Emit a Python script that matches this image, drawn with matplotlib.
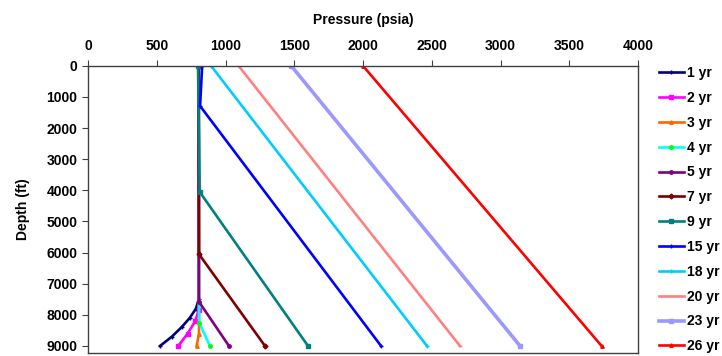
import matplotlib
matplotlib.use('Agg')
import matplotlib.pyplot as plt

plt.rcParams['font.family'] = ['Liberation Sans', 'DejaVu Sans']
plt.rcParams['font.weight'] = 'bold'

labels = ['1 yr', '2 yr', '3 yr', '4 yr', '5 yr', '7 yr', '9 yr',
          '15 yr', '18 yr', '20 yr', '23 yr', '26 yr']
colors = ['#000080', '#FF00FF', '#FF6600', '#00FFFF', '#800080', '#800000',
          '#008080', '#0000FF', '#00CCFF', '#FF8080', '#9999FF', '#FF0000']
markers = ['+', 's', '^', 'o', 'o', 'D', 's', '+', '+', '_', 's', '^']

# depth (ft) and pressure (psia)
depth = [
    [0, 7500, 7800, 8100, 8400, 8700, 9000],
    [0, 7850, 8200, 8600, 9000],
    [0, 8600, 9000],
    [0, 8250, 9000],
    [0, 7580, 9000],
    [0, 6050, 9000],
    [0, 4050, 9000],
    [0, 1290, 9000],
    [0, 9000],
    [0, 9000],
    [0, 9000],
    [0, 9000],
]
pressure = [
    [805, 805, 785, 740, 680, 610, 524],
    [805, 805, 780, 725, 656],
    [805, 807, 790],
    [805, 808, 887],
    [805, 807, 1025],
    [805, 807, 1287],
    [800, 812, 1600],
    [830, 815, 2131],
    [895, 2465],
    [1095, 2705],
    [1478, 3142],
    [2000, 3735],
]

fig = plt.figure(figsize=(7.22, 3.56), dpi=100)
ax = fig.add_axes([0.1219, 0.009, 0.7618, 0.806])

fs = 10
handles = []
for d, p, lab, c, m in zip(depth, pressure, labels, colors, markers):
    lw = 2.6 if lab == '23 yr' else 1.9
    mfc = '#00FF00' if lab == '4 yr' else c
    h, = ax.plot(p, d, '-', color=c, lw=lw, marker=m, ms=2.5, mfc=mfc, mec=mfc,
                 label=lab)
    handles.append(h)

ax.set_xlim(0, 4000)
ax.set_ylim(9220, 0)
ax.set_xticks(range(0, 4001, 500))
ax.set_yticks(range(0, 9001, 1000))
ax.xaxis.tick_top()
ax.xaxis.set_label_position('top')
ax.tick_params(axis='both', labelsize=fs, length=4, width=0.8, color='#404040',
               direction='out')
ax.tick_params(axis='x', pad=5)
ax.set_xlabel('Pressure (psia)', fontsize=fs, fontweight='bold', labelpad=11)
ax.set_ylabel('Depth (ft)', fontsize=fs, fontweight='bold', labelpad=12)
for s in ax.spines.values():
    s.set_color('#404040')
    s.set_linewidth(1.0)

leg = fig.legend(handles=handles, loc='upper left', bbox_to_anchor=(0.905, 0.83),
                 frameon=False, fontsize=fs, handlelength=1.8, handletextpad=0.2,
                 labelspacing=0.78, borderaxespad=0)

fig.savefig('out.png', dpi=100)
